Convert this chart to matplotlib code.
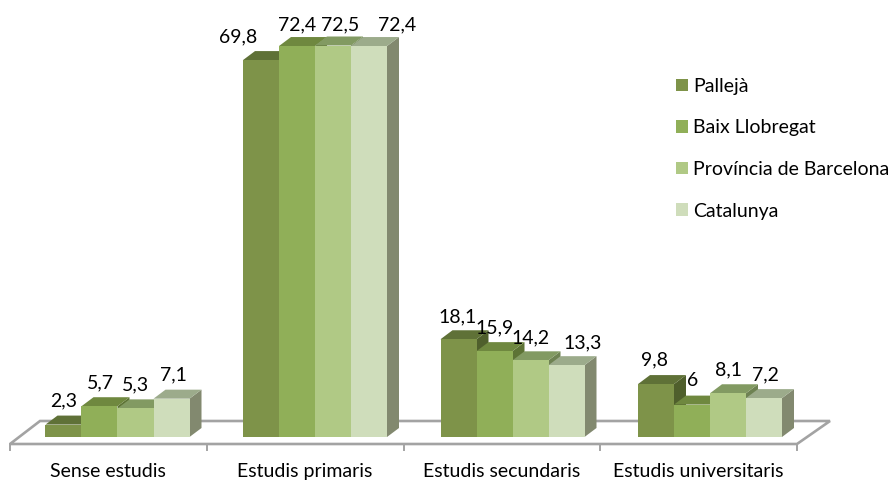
import matplotlib
matplotlib.use("Agg")
import matplotlib.pyplot as plt
from matplotlib.patches import Polygon

plt.rcParams['font.family'] = ['Lato', 'DejaVu Sans']

categories = ["Sense estudis", "Estudis primaris", "Estudis secundaris", "Estudis universitaris"]
series_names = ["Pallejà", "Baix Llobregat", "Província de Barcelona", "Catalunya"]
palleja = [2.3, 69.8, 18.1, 9.8]
baix = [5.7, 72.4, 15.9, 6]
provincia = [5.3, 72.5, 14.2, 8.1]
catalunya = [7.1, 72.4, 13.3, 7.2]
series = [palleja, baix, provincia, catalunya]

front = ["#7E9349", "#90AF58", "#B0C985", "#CFDDBB"]
top = ["#5F7137", "#6F883F", "#829A62", "#9CAB8B"]
side = ["#4F5F2C", "#5D7335", "#6E8252", "#82896F"]

# label offsets from the bar's top centre, in pixels (series x category)
label_dx = [[0, -23, -1, -2], [1, 0, 0, 1], [0, 7, 0, 0], [2, 28, 16, 1]]
label_dy = [[24, 23, 22, 24], [23, 21, 23, 24], [24, 21, 22, 23], [24, 21, 22, 23]]

W, H = 894, 482
PX_X, PX_Y = 197.5, 5.4          # pixels per category / per unit
X0, Y0 = 117.5, 437              # pixel position of first category centre / of zero
BAR = 36 / PX_X
DX, DY = 12 / PX_X, 9 / PX_Y     # bar depth

fig = plt.figure(figsize=(W / 100, H / 100), dpi=100)
ax = fig.add_axes([0, 0, 1, 1])
ax.set_xlim(-X0 / PX_X, (W - X0) / PX_X)
ax.set_ylim(-(H - Y0) / PX_Y, Y0 / PX_Y)
ax.axis("off")


def px(xp, yp):
    return (xp - X0) / PX_X, (Y0 - yp) / PX_Y


GREY = "#A3A3A3"
floor = [px(10, 444), px(40, 421), px(830, 421), px(797, 444)]
ax.add_patch(Polygon(floor, closed=True, fill=False, edgecolor=GREY, lw=1.9, zorder=1, joinstyle="miter"))
tick_px = [10 + k * (797 - 10) / 4 for k in range(5)]
for t in tick_px:
    x = px(t, 0)[0]
    ax.plot([x, x], [px(0, 444)[1], px(0, 450)[1]], color=GREY, lw=1.4, zorder=1)

z = 2
for c in range(len(categories)):
    for s, vals in enumerate(series):
        v = vals[c]
        l = c + (s - 2) * BAR
        r = l + BAR
        ax.add_patch(Polygon([(r, 0), (r + DX, DY), (r + DX, v + DY), (r, v)], color=side[s], lw=0, zorder=z))
        ax.add_patch(Polygon([(l, v), (l + DX, v + DY), (r + DX, v + DY), (r, v)], color=top[s], lw=0, zorder=z))
        ax.bar(l, v, BAR, align="edge", color=front[s], lw=0, zorder=z + 0.5,
               label=series_names[s] if c == 0 else None)
        z += 1
for c in range(len(categories)):
    for s, vals in enumerate(series):
        v = vals[c]
        xc = c + (s - 1.5) * BAR + label_dx[s][c] / PX_X
        yc = v + label_dy[s][c] / PX_Y
        ax.text(xc, yc, str(v).replace(".", ","), ha="center", va="center", fontsize=14, color="black", zorder=100)
    label_x = px((tick_px[c] + tick_px[c + 1]) / 2, 0)[0]
    ax.text(label_x, px(0, 477)[1], categories[c], ha="center", va="baseline", fontsize=14, color="black")

ax.legend(loc="upper left", bbox_to_anchor=(676 / W, 1 - 78 / H), bbox_transform=fig.transFigure,
          frameon=False, fontsize=14, handlelength=0.62, handleheight=0.62, handletextpad=0.26,
          labelspacing=1.26, borderpad=0, borderaxespad=0)

fig.savefig("out.png", dpi=100)
